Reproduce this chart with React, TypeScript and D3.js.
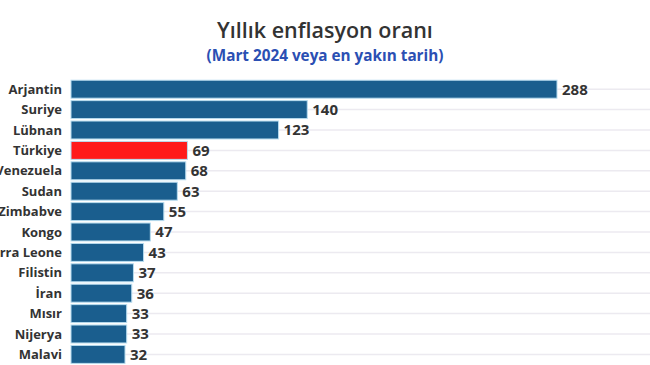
import React from "react";
import * as d3 from "d3";

const countries = ["Arjantin","Suriye","Lübnan","Türkiye","Venezuela","Sudan","Zimbabve","Kongo","Sierra Leone","Filistin","İran","Mısır","Nijerya","Malavi"];
const values = [288,140,123,69,68,63,55,47,43,37,36,33,33,32];
const highlight = "Türkiye";

const W = 650, H = 365;
const left = 71, top = 79;

export default function App() {
  const x = d3.scaleLinear().domain([0, 288]).range([left, 557]);
  const y = d3.scaleBand<string>().domain(countries).range([top, top + 20.4 * 14]).paddingInner(0.12).paddingOuter(0.06);
  return (
    <svg width={W} height={H} style={{ position: "absolute", left: 0, top: 0, background: "#fff" }} fontFamily="'Open Sans', sans-serif">
      <text x={325} y={38} textAnchor="middle" fontSize={21.5} fontWeight={600} fill="#333">Yıllık enflasyon oranı</text>
      <text x={325} y={61} textAnchor="middle" fontSize={15.3} fontWeight={700} fill="#2b4fb3">(Mart 2024 veya en yakın tarih)</text>
      {countries.map((c) => (
        <line key={"g" + c} x1={left} x2={W} y1={y(c)! + y.bandwidth() / 2} y2={y(c)! + y.bandwidth() / 2} stroke="#eceaf0" strokeWidth={1.5} />
      ))}
      {countries.map((c, i) => (
        <g key={c}>
          <rect x={x(0)} y={y(c)} width={x(values[i]) - x(0)} height={y.bandwidth()} fill={c === highlight ? "#ff1a1a" : "#1a5e8e"} stroke="#b7dcef" strokeWidth={1} />
          <text x={62} y={y(c)! + y.bandwidth() / 2} dy="0.35em" textAnchor="end" fontSize={13} fontWeight={700} fill="#333">{c}</text>
          <text x={x(values[i]) + 5} y={y(c)! + y.bandwidth() / 2} dy="0.36em" fontSize={15} fontWeight={700} fill="#333">{values[i]}</text>
        </g>
      ))}
    </svg>
  );
}
